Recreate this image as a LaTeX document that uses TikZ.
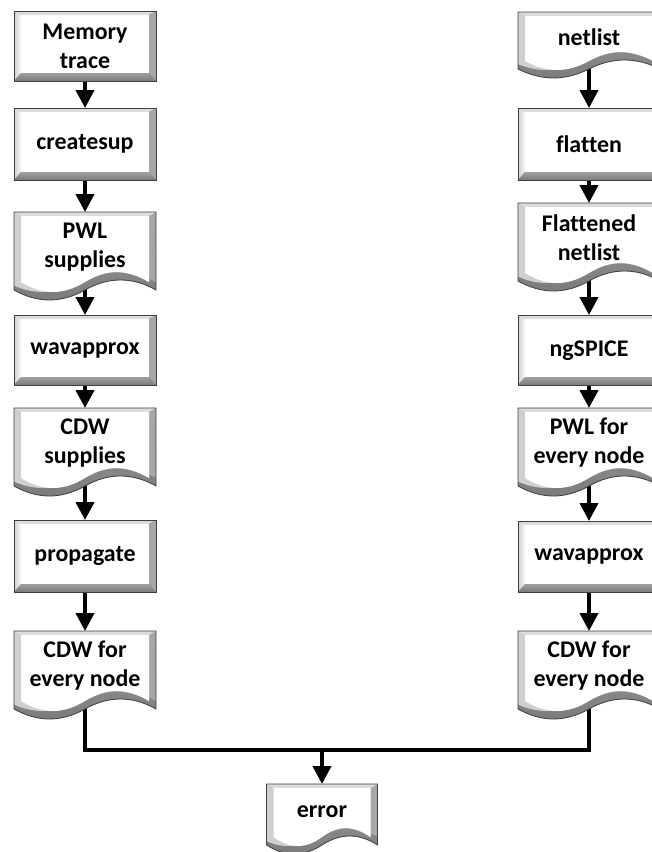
\documentclass[tikz,border=0pt]{standalone}
\usepackage{fontspec}
\setmainfont{Carlito}[Ligatures=NoCommon]
\usetikzlibrary{arrows.meta,calc}

\pgfdeclarelayer{wires}
\pgfdeclarelayer{shapes}
\pgfsetlayers{wires,shapes,main}

\definecolor{edgeline}{HTML}{404040}
\definecolor{bevlight}{HTML}{DCDCDC}
\definecolor{bevleft}{HTML}{CFCFCF}
\definecolor{bevright}{HTML}{A6A6A6}
\definecolor{bevmid}{HTML}{A0A0A0}
\definecolor{bevdark}{HTML}{7A7A7A}

\tikzset{
  boxtext/.style={font=\fontsize{24}{29}\selectfont\bfseries, align=center,
    inner sep=0pt, text=black},
  wire/.style={line width=4bp, black},
  arr/.style={wire, -{Triangle[length=18bp,width=18bp]}},
}

% bevel widths: sides, top, bottom
\def\bd{7}
\def\bt{4}
\def\bb{8}

% document outline: left x, right x, top y, depth of wave axis, wave amplitude
\newcommand\docpath[5]{%
  (#1,#3) -- (#2,#3) -- (#2,{#3-(#4)})
  .. controls ({(#2)-((#2)-(#1))/6},{#3-(#4)+4*(#5)/3})
          and ({(#2)-((#2)-(#1))/3},{#3-(#4)+4*(#5)/3})
  .. ({((#1)+(#2))/2},{#3-(#4)})
  .. controls ({(#1)+((#2)-(#1))/3},{#3-(#4)-4*(#5)/3})
          and ({(#1)+((#2)-(#1))/6},{#3-(#4)-4*(#5)/3})
  .. (#1,{#3-(#4)}) -- cycle}

% bevelled process box: name, centre x, top, width, height, text
\newcommand\flowrect[6]{%
  \pgfmathsetmacro\xl{#2-(#4)/2}%
  \pgfmathsetmacro\xr{#2+(#4)/2}%
  \pgfmathsetmacro\yt{-(#3)}%
  \pgfmathsetmacro\yb{-(#3)-(#5)}%
  \begin{pgfonlayer}{shapes}
    \fill[bevdark] (\xl,\yt) rectangle (\xr,\yb);
    \fill[bevlight] (\xl,\yt) -- (\xr,\yt) -- (\xr-\bd,\yt-\bt) -- (\xl+\bd,\yt-\bt) -- cycle;
    \shade[left color=bevleft, right color=white!85!bevleft]
      (\xl,\yt) -- (\xl+\bd,\yt-\bt) -- (\xl+\bd,\yb+\bb) -- (\xl,\yb) -- cycle;
    \fill[bevright] (\xr,\yt) -- (\xr-\bd,\yt-\bt) -- (\xr-\bd,\yb+\bb) -- (\xr,\yb) -- cycle;
    \shade[top color=bevmid, bottom color=bevdark]
      (\xl,\yb) -- (\xl+\bd,\yb+\bb) -- (\xr-\bd,\yb+\bb) -- (\xr,\yb) -- cycle;
    \fill[white] (\xl+\bd,\yt-\bt) rectangle (\xr-\bd,\yb+\bb);
    \draw[edgeline, line width=0.8bp] (\xl,\yt) rectangle (\xr,\yb);
  \end{pgfonlayer}
  \node[boxtext, minimum width=#4bp, minimum height=#5bp, anchor=north] (#1) at (#2,\yt) {#6};
}

% bevelled document box: name, centre x, top, width, wave depth, wave amplitude, text
\newcommand\flowdoc[7]{%
  \pgfmathsetmacro\xl{#2-(#4)/2}%
  \pgfmathsetmacro\xr{#2+(#4)/2}%
  \pgfmathsetmacro\yt{-(#3)}%
  \pgfmathsetmacro\min{(#5)-\bt-\bb}%
  \pgfmathsetmacro\hnode{0.885*(#5)}%
  \begin{pgfonlayer}{shapes}
    \begin{scope}
      \clip \docpath{\xl}{\xr}{\yt}{#5}{#6};
      \shade[top color=bevmid, bottom color=bevdark] \docpath{\xl}{\xr}{\yt}{#5}{#6};
      \fill[bevright] \docpath{\xl}{\xr}{\yt+\bb}{#5}{#6};
      \fill[bevleft] \docpath{\xl-\bd}{\xr-\bd}{\yt+\bb}{#5}{#6};
      \fill[bevlight] (\xl,\yt) -- (\xr,\yt) -- (\xr-\bd,\yt-\bt) -- (\xl+\bd,\yt-\bt) -- cycle;
      \fill[white] \docpath{\xl+\bd}{\xr-\bd}{\yt-\bt}{\min}{#6};
    \end{scope}
    \draw[edgeline, line width=0.8bp] \docpath{\xl}{\xr}{\yt}{#5}{#6};
  \end{pgfonlayer}
  \node[boxtext, minimum width=#4bp, minimum height=\hnode bp, anchor=north] (#1) at (#2,\yt) {#7};
}

\begin{document}
\begin{tikzpicture}[x=1bp,y=1bp]
\useasboundingbox (0,0) rectangle (652,-852);
\begin{pgfonlayer}{wires}
  \fill[white] (0,0) rectangle (652,-852);
\end{pgfonlayer}

% left column: supply waveform flow
\flowrect{mem}{85}{11}{142}{70}{Memory\\trace}
\flowrect{csup}{85}{108}{142}{72}{createsup}
\flowdoc{pwlsup}{85}{212}{142}{78}{10}{PWL\\supplies}
\flowrect{wavL}{85}{315}{142}{70}{wavapprox}
\flowdoc{cdwsup}{85}{408}{142}{78}{10}{CDW\\supplies}
\flowrect{prop}{85}{520}{142}{72}{propagate}
\flowdoc{cdwL}{85}{631}{142}{78}{10}{CDW for\\every node}

% right column: circuit simulation flow
\flowdoc{net}{589}{12}{142}{57}{9}{netlist}
\flowrect{flat}{589}{108}{142}{72}{flatten}
\flowdoc{fnet}{589}{203}{142}{78}{10}{Flattened\\netlist}
\flowrect{spice}{589}{315}{142}{70}{ngSPICE}
\flowdoc{pwlR}{589}{408}{142}{78}{10}{PWL for\\every node}
\flowrect{wavR}{589}{521}{142}{71}{wavapprox}
\flowdoc{cdwR}{589}{631}{142}{78}{10}{CDW for\\every node}

% comparison result
\flowdoc{err}{322}{784}{111}{61}{9}{error}
\coordinate (join) at (322,-750);

\begin{pgfonlayer}{wires}
  \draw[arr] (mem.center) -- (csup.north);
  \draw[arr] (csup.center) -- (pwlsup.north);
  \draw[arr] (pwlsup.center) -- (wavL.north);
  \draw[arr] (wavL.center) -- (cdwsup.north);
  \draw[arr] (cdwsup.center) -- (prop.north);
  \draw[arr] (prop.center) -- (cdwL.north);

  \draw[arr] (net.center) -- (flat.north);
  \draw[arr] (flat.center) -- (fnet.north);
  \draw[arr] (fnet.center) -- (spice.north);
  \draw[arr] (spice.center) -- (pwlR.north);
  \draw[arr] (pwlR.center) -- (wavR.north);
  \draw[arr] (wavR.center) -- (cdwR.north);

  \draw[wire] (cdwL.center) -- (cdwL.center |- join) -- (cdwR.center |- join) -- (cdwR.center);
  \draw[arr] (join) -- (err.north);
\end{pgfonlayer}
\end{tikzpicture}
\end{document}
